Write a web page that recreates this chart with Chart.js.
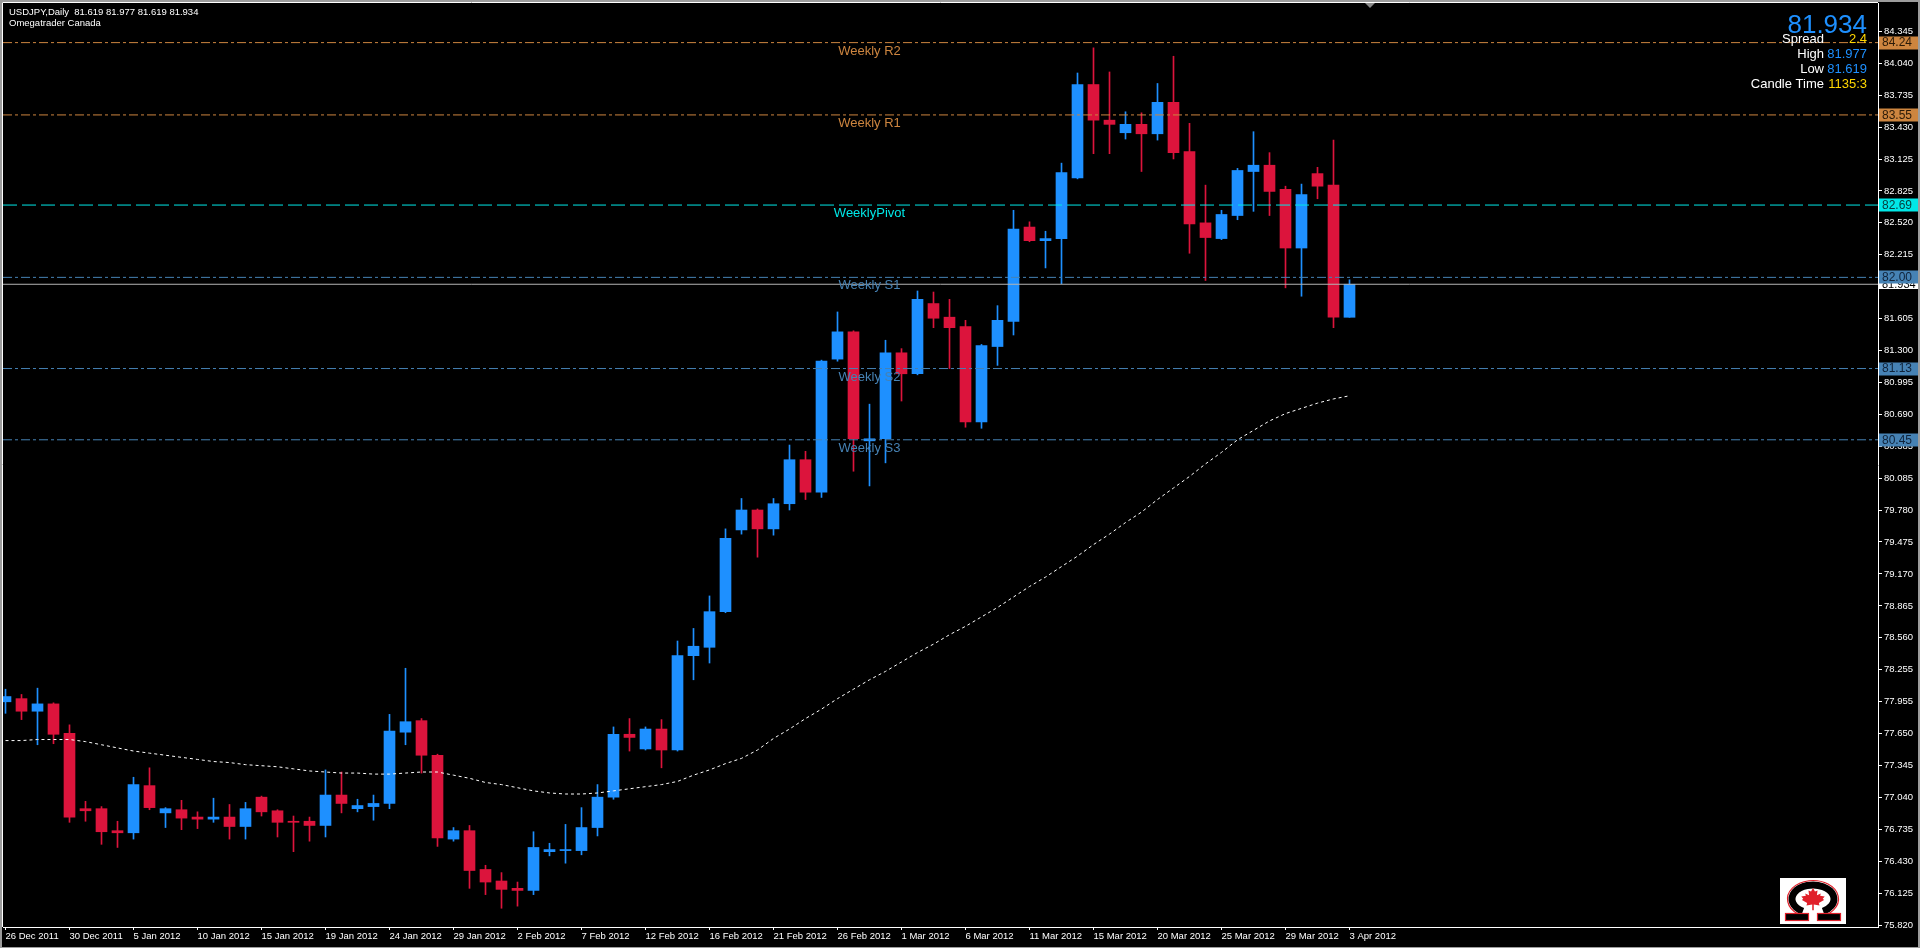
<!DOCTYPE html>
<html>
<head>
<meta charset="utf-8">
<title>USDJPY,Daily</title>
<script src="https://cdn.jsdelivr.net/npm/chart.js@4.4.1/dist/chart.umd.min.js"></script>
<style>
  html, body { margin: 0; padding: 0; background: #000; overflow: hidden; }
  canvas { display: block; }
</style>
</head>
<body>
<canvas id="chart" width="1920" height="948"></canvas>
<script>
// bar dates (one per daily candle, Sunday bars included)
const barDates = [
  "26 Dec 2011", "27 Dec 2011", "28 Dec 2011", "29 Dec 2011", "30 Dec 2011",
  "2 Jan 2012", "3 Jan 2012", "4 Jan 2012", "5 Jan 2012", "6 Jan 2012",
  "8 Jan 2012", "9 Jan 2012", "10 Jan 2012", "11 Jan 2012", "12 Jan 2012",
  "13 Jan 2012", "15 Jan 2012", "16 Jan 2012", "17 Jan 2012", "18 Jan 2012",
  "19 Jan 2012", "20 Jan 2012", "22 Jan 2012", "23 Jan 2012", "24 Jan 2012",
  "25 Jan 2012", "26 Jan 2012", "27 Jan 2012", "29 Jan 2012", "30 Jan 2012",
  "31 Jan 2012", "1 Feb 2012", "2 Feb 2012", "3 Feb 2012", "5 Feb 2012",
  "6 Feb 2012", "7 Feb 2012", "8 Feb 2012", "9 Feb 2012", "10 Feb 2012",
  "12 Feb 2012", "13 Feb 2012", "14 Feb 2012", "15 Feb 2012", "16 Feb 2012",
  "17 Feb 2012", "19 Feb 2012", "20 Feb 2012", "21 Feb 2012", "22 Feb 2012",
  "23 Feb 2012", "24 Feb 2012", "26 Feb 2012", "27 Feb 2012", "28 Feb 2012",
  "29 Feb 2012", "1 Mar 2012", "2 Mar 2012", "4 Mar 2012", "5 Mar 2012",
  "6 Mar 2012", "7 Mar 2012", "8 Mar 2012", "9 Mar 2012", "11 Mar 2012",
  "12 Mar 2012", "13 Mar 2012", "14 Mar 2012", "15 Mar 2012", "16 Mar 2012",
  "18 Mar 2012", "19 Mar 2012", "20 Mar 2012", "21 Mar 2012", "22 Mar 2012",
  "23 Mar 2012", "25 Mar 2012", "26 Mar 2012", "27 Mar 2012", "28 Mar 2012",
  "29 Mar 2012", "30 Mar 2012", "1 Apr 2012", "2 Apr 2012", "3 Apr 2012"
];

const openPrices = [
  77.95, 77.98, 77.86, 77.93, 77.65, 76.93, 76.93, 76.72, 76.70, 77.15,
  76.89, 76.92, 76.85, 76.83, 76.85, 76.76, 77.04, 76.91, 76.81, 76.81,
  76.77, 77.06, 76.93, 76.95, 76.98, 77.66, 77.77, 77.44, 76.64, 76.72,
  76.35, 76.24, 76.17, 76.15, 76.52, 76.53, 76.53, 76.75, 77.04, 77.64,
  77.50, 77.69, 77.49, 78.39, 78.47, 78.81, 79.59, 79.78, 79.60, 79.84,
  80.26, 79.95, 81.22, 81.48, 80.44, 80.46, 81.28, 81.08, 81.75, 81.62,
  81.53, 80.62, 81.34, 81.58, 82.48, 82.35, 82.37, 82.95, 83.84, 83.50,
  83.38, 83.46, 83.37, 83.67, 83.20, 82.52, 82.37, 82.59, 83.01, 83.07,
  82.84, 82.28, 82.99, 82.88, 81.619
];
const highPrices = [
  78.07, 78.02, 78.08, 77.94, 77.73, 77.00, 76.95, 76.81, 77.23, 77.32,
  76.94, 77.01, 76.90, 77.03, 76.97, 76.99, 77.05, 76.92, 76.86, 76.85,
  77.30, 77.28, 77.02, 77.06, 77.83, 78.27, 77.79, 77.45, 76.75, 76.77,
  76.39, 76.32, 76.23, 76.71, 76.60, 76.78, 76.94, 77.16, 77.71, 77.79,
  77.71, 77.78, 78.53, 78.65, 78.96, 79.60, 79.89, 79.79, 79.89, 80.40,
  80.34, 81.21, 81.67, 81.49, 80.79, 81.40, 81.32, 81.87, 81.86, 81.79,
  81.59, 81.36, 81.73, 82.64, 82.53, 82.44, 83.09, 83.95, 84.19, 83.96,
  83.58, 83.57, 83.85, 84.11, 83.47, 82.88, 82.64, 83.04, 83.39, 83.19,
  82.87, 82.89, 83.05, 83.31, 81.977
];
const lowPrices = [
  77.84, 77.78, 77.54, 77.55, 76.80, 76.81, 76.59, 76.56, 76.64, 76.92,
  76.75, 76.73, 76.74, 76.80, 76.64, 76.64, 76.86, 76.66, 76.52, 76.62,
  76.66, 76.89, 76.90, 76.82, 76.93, 77.54, 77.27, 76.57, 76.62, 76.17,
  76.11, 75.98, 76.00, 76.11, 76.48, 76.41, 76.49, 76.67, 77.02, 77.48,
  77.49, 77.32, 77.48, 78.16, 78.32, 78.80, 79.55, 79.33, 79.54, 79.78,
  79.88, 79.90, 81.20, 80.15, 80.01, 80.23, 80.82, 81.07, 81.52, 81.13,
  80.57, 80.56, 81.16, 81.45, 82.34, 82.09, 81.94, 82.94, 83.18, 83.18,
  83.32, 83.01, 83.31, 83.13, 82.23, 81.97, 82.36, 82.55, 82.63, 82.59,
  81.90, 81.82, 82.75, 81.52, 81.619
];
const closePrices = [
  78.00, 77.86, 77.93, 77.64, 76.85, 76.91, 76.71, 76.70, 77.16, 76.94,
  76.93, 76.84, 76.83, 76.85, 76.76, 76.93, 76.90, 76.80, 76.80, 76.77,
  77.06, 76.98, 76.96, 76.98, 77.67, 77.76, 77.44, 76.65, 76.72, 76.34,
  76.23, 76.16, 76.15, 76.56, 76.54, 76.54, 76.75, 77.04, 77.64, 77.61,
  77.69, 77.49, 78.39, 78.48, 78.81, 79.51, 79.78, 79.60, 79.84, 80.26,
  79.95, 81.20, 81.48, 80.46, 80.46, 81.28, 81.08, 81.79, 81.61, 81.52,
  80.62, 81.35, 81.59, 82.46, 82.35, 82.37, 83.00, 83.84, 83.50, 83.46,
  83.46, 83.37, 83.67, 83.19, 82.51, 82.38, 82.60, 83.02, 83.07, 82.82,
  82.28, 82.79, 82.87, 81.619, 81.934
];

// moving average (white dotted line)
const maValues = [
  77.58, 77.58, 77.59, 77.59, 77.59, 77.57, 77.54, 77.51, 77.48, 77.46,
  77.44, 77.42, 77.40, 77.38, 77.37, 77.35, 77.34, 77.33, 77.31, 77.29,
  77.28, 77.27, 77.27, 77.26, 77.26, 77.27, 77.28, 77.28, 77.25, 77.22,
  77.18, 77.16, 77.13, 77.10, 77.08, 77.07, 77.07, 77.08, 77.10, 77.12,
  77.14, 77.16, 77.19, 77.25, 77.30, 77.36, 77.41, 77.49, 77.60, 77.69,
  77.79, 77.88, 77.98, 78.07, 78.16, 78.24, 78.33, 78.42, 78.50, 78.59,
  78.67, 78.76, 78.85, 78.95, 79.05, 79.14, 79.24, 79.34, 79.45, 79.55,
  79.66, 79.76, 79.88, 79.99, 80.10, 80.22, 80.33, 80.45, 80.54, 80.63,
  80.70, 80.75, 80.80, 80.84, 80.87
];

// price axis tick labels
const priceTicks = [
  84.345, 84.040, 83.735, 83.430, 83.125, 82.825, 82.520, 82.215, 81.910,
  81.605, 81.300, 80.995, 80.690, 80.385, 80.085, 79.780, 79.475, 79.170,
  78.865, 78.560, 78.255, 77.955, 77.650, 77.345, 77.040, 76.735, 76.430,
  76.125, 75.820
];

// weekly pivot levels
const levelNames = ["Weekly R2", "Weekly R1", "WeeklyPivot", "Weekly S1", "Weekly S2", "Weekly S3"];
const levelValues = [84.24, 83.55, 82.69, 82.00, 81.13, 80.45];
const levelTags = ["84.24", "83.55", "82.69", "82.00", "81.13", "80.45"];

const symbolTitle = "USDJPY,Daily";
const brokerName = "Omegatrader Canada";
const lastPrice = 81.934;
const spreadText = "2.4";
const candleTimeText = "1135:3";

// ---- styles ----
const BULL = "#1e90ff";
const BEAR = "#dc143c";
const FONT = "'Liberation Sans', Arial, sans-serif";
const levelStyles = [
  { color: "#cd853f", dash: [9, 3, 3, 3], tagText: "#2a1a08" },
  { color: "#cd853f", dash: [9, 3, 3, 3], tagText: "#2a1a08" },
  { color: "#00e8e8", dash: [14, 5], tagText: "#06403f" },
  { color: "#4682b4", dash: [9, 3, 3, 3], tagText: "#10233a" },
  { color: "#4682b4", dash: [9, 3, 3, 3], tagText: "#10233a" },
  { color: "#4682b4", dash: [9, 3, 3, 3], tagText: "#10233a" }
];
const X_MIN = -0.15625;
const X_MAX = 117.03125;
const Y_MIN = 75.801;
const Y_MAX = 84.618;

Chart.defaults.font.family = FONT;

function candleColor(i) {
  return closePrices[i] >= openPrices[i] ? BULL : BEAR;
}

const idx = barDates.map((d, i) => i);

const datasets = [];

levelValues.forEach((v, k) => {
  datasets.push({
    type: "line",
    label: levelNames[k],
    data: [{ x: X_MIN, y: v }, { x: X_MAX, y: v }],
    borderColor: levelStyles[k].color,
    borderWidth: 1,
    borderDash: levelStyles[k].dash,
    pointRadius: 0,
    order: 0,
  });
});

datasets.push({
  type: "line",
  label: "price",
  data: [{ x: X_MIN, y: lastPrice }, { x: X_MAX, y: lastPrice }],
  borderColor: "#b4b4b4",
  borderWidth: 1,
  pointRadius: 0,
  order: 0,
});

datasets.push({
  type: "line",
  label: "MA",
  data: idx.map((i) => ({ x: i, y: maValues[i] })),
  borderColor: "#ffffff",
  borderWidth: 1,
  borderDash: [3, 3],
  pointRadius: 0,
  tension: 0,
  order: 1,
});

datasets.push({
  type: "bar",
  label: "body",
  data: idx.map((i) => ({ x: i, y: [openPrices[i], closePrices[i]] })),
  backgroundColor: idx.map(candleColor),
  borderWidth: 0,
  barThickness: 11,
  minBarLength: 1,
  grouped: false,
  order: 2,
});

datasets.push({
  type: "bar",
  label: "wick",
  data: idx.map((i) => ({ x: i, y: [lowPrices[i], highPrices[i]] })),
  backgroundColor: idx.map(candleColor),
  borderWidth: 0,
  barThickness: 1,
  grouped: false,
  order: 3,
});

function drawTag(ctx, y, bg, fg, text) {
  ctx.fillStyle = bg;
  ctx.fillRect(1879, Math.round(y) - 6.5, 41, 13);
  ctx.fillStyle = fg;
  ctx.font = "12px " + FONT;
  ctx.textAlign = "left";
  ctx.textBaseline = "middle";
  ctx.fillText(text, 1882, y + 0.5);
}

function drawLogo(ctx) {
  const cx = 1813, cy = 899;
  ctx.save();
  ctx.fillStyle = "#ffffff";
  ctx.fillRect(1780, 878, 66, 46);
  // omega ring
  ctx.lineWidth = 7;
  ctx.strokeStyle = "#000";
  ctx.beginPath();
  ctx.ellipse(cx, cy, 21, 14, 0, 0.66 * Math.PI, 0.34 * Math.PI);
  ctx.stroke();
  ctx.lineWidth = 1.2;
  ctx.strokeStyle = "#e0202a";
  ctx.beginPath();
  ctx.ellipse(cx, cy, 25.5, 18.5, 0, 0.7 * Math.PI, 0.3 * Math.PI);
  ctx.stroke();
  // feet
  ctx.fillStyle = "#000";
  ctx.fillRect(1786, 914, 22, 6);
  ctx.fillRect(1818, 914, 22, 6);
  ctx.strokeRect(1785.5, 913.5, 23, 7);
  ctx.strokeRect(1817.5, 913.5, 23, 7);
  // maple leaf
  const leaf = [
    [0, -1], [0.15, -0.7], [0.35, -0.8], [0.3, -0.4], [0.6, -0.55], [0.55, -0.35],
    [0.9, -0.3], [0.75, -0.1], [0.85, 0], [0.45, 0.25], [0.5, 0.45], [0.06, 0.38],
    [0.06, 0.85], [-0.06, 0.85], [-0.06, 0.38], [-0.5, 0.45], [-0.45, 0.25],
    [-0.85, 0], [-0.75, -0.1], [-0.9, -0.3], [-0.55, -0.35], [-0.6, -0.55],
    [-0.3, -0.4], [-0.35, -0.8], [-0.15, -0.7]
  ];
  ctx.fillStyle = "#e0202a";
  ctx.beginPath();
  leaf.forEach((p, k) => {
    const px = cx + p[0] * 13, py = cy + 1 + p[1] * 12;
    if (k === 0) ctx.moveTo(px, py); else ctx.lineTo(px, py);
  });
  ctx.closePath();
  ctx.fill();
  ctx.restore();
}

const overlay = {
  id: "overlay",
  beforeDraw(chart) {
    const ctx = chart.ctx;
    ctx.save();
    ctx.fillStyle = "#000";
    ctx.fillRect(0, 0, chart.width, chart.height);
    ctx.restore();
  },
  afterDatasetsDraw(chart) {
    const ctx = chart.ctx;
    const xs = chart.scales.x, ys = chart.scales.y;
    ctx.save();
    ctx.font = "13px " + FONT;
    ctx.textAlign = "center";
    ctx.textBaseline = "alphabetic";
    const lx = xs.getPixelForValue(54);
    levelValues.forEach((v, k) => {
      ctx.fillStyle = levelStyles[k].color;
      ctx.fillText(levelNames[k], lx, ys.getPixelForValue(v) + 12);
    });
    ctx.restore();
  },
  afterDraw(chart) {
    const ctx = chart.ctx;
    const ys = chart.scales.y;
    const a = chart.chartArea;
    ctx.save();

    // price tags on the axis
    const py = ys.getPixelForValue(lastPrice);
    ctx.fillStyle = "#ffffff";
    ctx.fillRect(1879, Math.round(py) - 4, 41, 9);
    ctx.fillStyle = "#000";
    ctx.font = "11px " + FONT;
    ctx.textBaseline = "middle";
    ctx.fillText(lastPrice.toFixed(3), 1882, py + 1);
    levelValues.forEach((v, k) => {
      drawTag(ctx, ys.getPixelForValue(v), levelStyles[k].color, levelStyles[k].tagText, levelTags[k]);
    });

    // frame
    ctx.strokeStyle = "#ffffff";
    ctx.lineWidth = 1;
    ctx.beginPath();
    ctx.moveTo(a.left - 0.5, a.bottom);
    ctx.lineTo(a.left - 0.5, a.top - 0.5);
    ctx.lineTo(a.right, a.top - 0.5);
    ctx.stroke();
    ctx.fillStyle = "#9c9c9c";
    ctx.fillRect(0, 0, chart.width, 2);
    ctx.fillRect(0, 0, 2, chart.height);
    ctx.fillRect(chart.width - 2, 0, 2, chart.height);
    ctx.fillRect(0, chart.height - 1, chart.width, 1);

    // chart shift marker
    ctx.fillStyle = "#8a8a8a";
    ctx.beginPath();
    ctx.moveTo(1365, 3);
    ctx.lineTo(1375, 3);
    ctx.lineTo(1370, 8);
    ctx.closePath();
    ctx.fill();

    // header
    ctx.fillStyle = "#ffffff";
    ctx.font = "9.5px " + FONT;
    ctx.textAlign = "left";
    ctx.textBaseline = "alphabetic";
    const n = openPrices.length - 1;
    ctx.fillText(symbolTitle + "  " + [openPrices[n], highPrices[n], lowPrices[n], closePrices[n]].map((v) => v.toFixed(3)).join(" "), 9, 15);
    ctx.fillText(brokerName, 9, 26);

    // info panel
    ctx.textAlign = "right";
    ctx.font = "26px " + FONT;
    ctx.fillStyle = BULL;
    ctx.fillText(lastPrice.toFixed(3), 1867, 33);
    ctx.font = "13px " + FONT;
    const rows = [
      ["Spread", spreadText, "#ffd700", 43],
      ["High", highPrices[n].toFixed(3), BULL, 57.5],
      ["Low", lowPrices[n].toFixed(3), BULL, 72.5],
      ["Candle Time", candleTimeText, "#ffd700", 87.5]
    ];
    rows.forEach((r) => {
      ctx.fillStyle = "#ffffff";
      ctx.fillText(r[0], 1824, r[3]);
      ctx.fillStyle = r[2];
      ctx.fillText(r[1], 1867, r[3]);
    });

    drawLogo(ctx);
    ctx.restore();
  }
};

new Chart(document.getElementById("chart"), {
  type: "bar",
  data: { datasets },
  plugins: [overlay],
  options: {
    responsive: false,
    animation: false,
    devicePixelRatio: 1,
    layout: { padding: { top: 3, left: 3, right: 0, bottom: 0 } },
    plugins: {
      legend: { display: false },
      tooltip: { enabled: false },
      title: { display: false },
    },
    scales: {
      x: {
        type: "linear",
        min: X_MIN,
        max: X_MAX,
        offset: false,
        position: "bottom",
        grid: { display: true, drawOnChartArea: false, drawTicks: true, tickLength: 3, color: "#ffffff", offset: false },
        border: { display: true, color: "#ffffff" },
        ticks: {
          autoSkip: false,
          maxRotation: 0,
          align: "start",
          color: "#ffffff",
          padding: 1,
          font: { family: FONT, size: 9.5 },
          callback: (v) => barDates[v],
        },
        afterBuildTicks: (s) => {
          s.ticks = idx.filter((i) => i % 4 === 0).map((v) => ({ value: v }));
        },
        afterFit: (s) => {
          s.height = 21;
          s.paddingLeft = 0;
          s.paddingRight = 0;
        },
      },
      y: {
        type: "linear",
        position: "right",
        min: Y_MIN,
        max: Y_MAX,
        grid: { display: true, drawOnChartArea: false, drawTicks: true, tickLength: 4, color: "#ffffff" },
        border: { display: true, color: "#ffffff" },
        ticks: {
          autoSkip: false,
          color: "#ffffff",
          padding: 2,
          font: { family: FONT, size: 9.5 },
          callback: (v) => v.toFixed(3),
        },
        afterBuildTicks: (s) => {
          s.ticks = priceTicks.map((v) => ({ value: v }));
        },
        afterFit: (s) => {
          s.width = 42;
          s.paddingTop = 0;
          s.paddingBottom = 0;
        },
      },
    },
  },
});
</script>
</body>
</html>
